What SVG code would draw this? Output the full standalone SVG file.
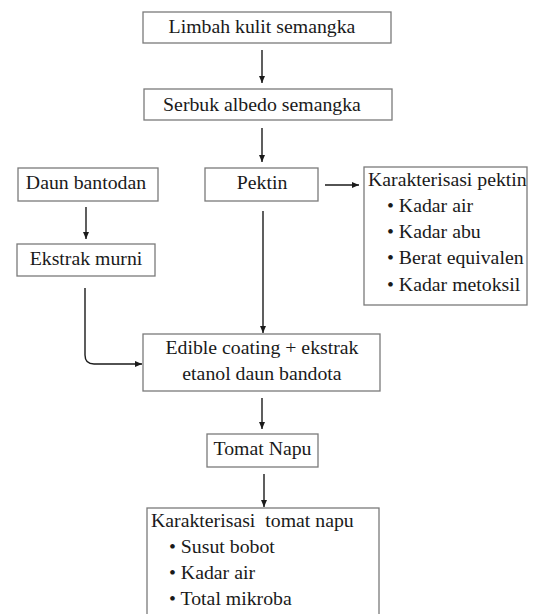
<svg xmlns="http://www.w3.org/2000/svg" width="535" height="614" viewBox="0 0 535 614">
<style>
.box{fill:#fff;stroke:#7a7a7a;stroke-width:1.3}
.c{text-anchor:middle}
.ln{fill:none;stroke:#1a1a1a;stroke-width:1.4}
</style>
<defs>
<marker id="ah" markerUnits="userSpaceOnUse" markerWidth="8" markerHeight="8" refX="7" refY="3.5" orient="auto">
<path d="M0,0.5 L7,3.5 L0,6.5 z" fill="#1a1a1a"/>
</marker>
</defs>
<rect width="535" height="614" fill="#fff"/>
<g id="connectors">
<path class="ln" d="M262 50 V83" marker-end="url(#ah)"/>
<path class="ln" d="M262 128 V162" marker-end="url(#ah)"/>
<path class="ln" d="M86 207 V239" marker-end="url(#ah)"/>
<path class="ln" d="M325 185 H359" marker-end="url(#ah)"/>
<path class="ln" d="M263 211 V333" marker-end="url(#ah)"/>
<path class="ln" d="M85 288 V355 Q85 364 94 364 H142" marker-end="url(#ah)"/>
<path class="ln" d="M262 398 V429" marker-end="url(#ah)"/>
<path class="ln" d="M264 474 V507" marker-end="url(#ah)"/>
</g>
<g font-family="Liberation Serif, serif" font-size="19.8" fill="#1a1a1a">
<g id="limbah">
<rect class="box" x="143" y="12" width="248" height="31"/>
<text class="c" x="262" y="33">Limbah kulit semangka</text>
</g>
<g id="serbuk">
<rect class="box" x="144" y="89" width="248" height="31"/>
<text class="c" x="262" y="111">Serbuk albedo semangka</text>
</g>
<g id="daun">
<rect class="box" x="18" y="168" width="140" height="33"/>
<text class="c" x="86" y="189">Daun bantodan</text>
</g>
<g id="pektin">
<rect class="box" x="205" y="168" width="113" height="33"/>
<text class="c" x="262" y="189">Pektin</text>
</g>
<g id="karakterisasi-pektin">
<rect class="box" x="364" y="167" width="163" height="138"/>
<text x="368" y="186">Karakterisasi pektin</text>
<text x="387" y="212">• Kadar air</text>
<text x="387" y="238">• Kadar abu</text>
<text x="387" y="264">• Berat equivalen</text>
<text x="387" y="291">• Kadar metoksil</text>
</g>
<g id="ekstrak">
<rect class="box" x="17" y="244" width="138" height="32"/>
<text class="c" x="86" y="265">Ekstrak murni</text>
</g>
<g id="edible">
<rect class="box" x="143" y="334" width="237" height="57"/>
<text class="c" x="262" y="354">Edible coating + ekstrak</text>
<text class="c" x="262" y="380">etanol daun bandota</text>
</g>
<g id="tomat">
<rect class="box" x="207" y="434" width="111" height="33"/>
<text class="c" x="262.5" y="455">Tomat Napu</text>
</g>
<g id="karakterisasi-tomat">
<rect class="box" x="147" y="508" width="232" height="110"/>
<text x="151" y="527" xml:space="preserve">Karakterisasi  tomat napu</text>
<text x="169" y="553">• Susut bobot</text>
<text x="169" y="579">• Kadar air</text>
<text x="169" y="605">• Total mikroba</text>
</g>
</g>
</svg>
